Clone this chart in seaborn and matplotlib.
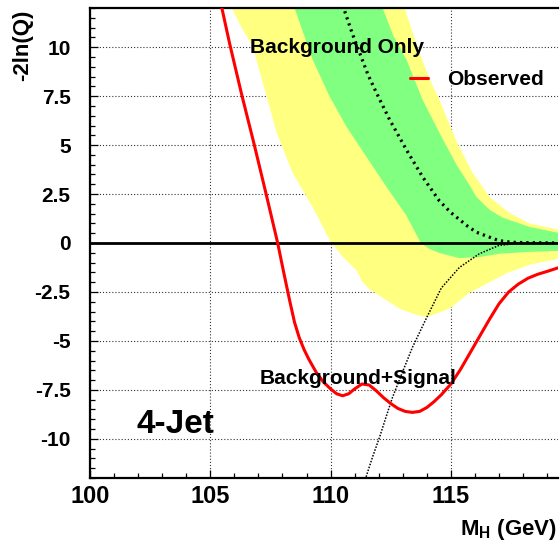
import numpy as np
import pandas as pd
import seaborn as sns
import matplotlib.pyplot as plt
from matplotlib.ticker import MultipleLocator

# values
# observed -2ln(Q)
obs_x = [105.35, 105.48, 105.8, 106.3, 106.83, 107.3, 107.8, 108.05, 108.3, 108.5,
         108.7, 108.9, 109.1, 109.4, 109.7, 110.0, 110.25, 110.5, 110.75, 111.0,
         111.3, 111.6, 111.9, 112.2, 112.5, 112.8, 113.1, 113.4, 113.7, 114.0,
         114.3, 114.6, 115.0, 115.4, 115.8, 116.2, 116.6, 117.0, 117.4, 117.8,
         118.2, 118.6, 119.0, 119.5]
obs_y = [12.6, 12.0, 10.2, 7.6, 5.0, 2.6, 0.0, -1.5, -2.95, -4.05,
         -4.85, -5.45, -5.95, -6.6, -7.1, -7.45, -7.7, -7.8, -7.7, -7.45,
         -7.2, -7.25, -7.55, -7.9, -8.2, -8.45, -8.6, -8.65, -8.6, -8.4,
         -8.1, -7.75, -7.2, -6.45, -5.6, -4.75, -3.9, -3.1, -2.5, -2.1,
         -1.8, -1.6, -1.45, -1.25]

# expected, background only (median)
bkg_x = [110.4, 110.54, 110.9, 111.2, 111.55, 111.9, 112.45, 113.15, 113.82, 114.52,
         115.0, 115.35, 115.7, 116.06, 116.6, 117.0, 117.5, 118.0, 119.5]
bkg_y = [12.6, 12.0, 10.7, 9.73, 8.6, 7.68, 6.3, 4.76, 3.38, 2.15,
         1.55, 1.2, 0.85, 0.55, 0.3, 0.12, 0.04, 0.02, 0.0]

# expected, background + signal
sb_x = [111.4, 111.49, 111.75, 112.03, 112.3, 112.57, 113.0, 113.4, 113.98, 114.6,
        115.35, 116.18, 117.0, 117.8, 119.5]
sb_y = [-12.4, -11.88, -10.9, -9.93, -8.9, -7.89, -6.55, -5.33, -3.84, -2.3,
        -1.25, -0.55, -0.12, -0.02, 0.0]

# 2 sigma band edges (yellow)
y2_hi_x = [112.8, 113.07, 113.69, 114.1, 114.52, 115.23, 115.89, 116.3, 116.6, 117.43, 118.26, 119.5]
y2_hi_y = [13.0, 12.0, 9.73, 8.4, 7.32, 5.2, 3.6, 2.9, 2.35, 1.54, 1.0, 0.67]
y2_lo_x = [105.7, 105.89, 106.3, 106.76, 107.18, 107.76, 108.42, 109.25, 109.96, 110.5,
           111.08, 111.3, 111.6, 112.32, 112.86, 113.4, 113.98, 114.94, 115.77, 116.6,
           117.4, 118.3, 119.5]
y2_lo_y = [13.0, 12.0, 11.0, 10.04, 8.19, 5.63, 3.58, 1.84, 0.15, -0.7,
           -1.4, -1.95, -2.35, -2.92, -3.35, -3.6, -3.8, -3.35, -2.55, -2.0,
           -1.5, -1.1, -0.8]

# 1 sigma band edges (green)
y1_hi_x = [111.9, 112.16, 112.6, 113.15, 113.82, 114.52, 115.23, 115.8, 116.06, 116.6, 117.14, 118.26, 119.5]
y1_hi_y = [13.0, 12.0, 10.6, 9.37, 7.32, 5.63, 4.0, 2.9, 2.35, 1.7, 1.3, 0.82, 0.51]
y1_lo_x = [108.3, 108.5, 109.25, 109.96, 110.66, 111.49, 112.32, 113.15, 113.75, 114.1,
           114.52, 115.35, 116.18, 117.0, 118.3, 119.5]
y1_lo_y = [13.0, 12.0, 9.37, 7.48, 5.94, 4.4, 2.87, 1.4, 0.0, -0.3,
           -0.51, -0.77, -0.72, -0.55, -0.45, -0.4]

x_ticks = [100, 105, 110, 115]
x_tick_labels = ["100", "105", "110", "115"]
y_ticks = [-10, -7.5, -5, -2.5, 0, 2.5, 5, 7.5, 10]
y_tick_labels = ["-10", "-7.5", "-5", "-2.5", "0", "2.5", "5", "7.5", "10"]

sns.set_theme(style="ticks")
plt.rcParams["font.family"] = ["Liberation Sans", "DejaVu Sans"]
plt.rcParams["font.weight"] = "bold"
plt.rcParams["text.color"] = "black"
plt.rcParams["axes.labelcolor"] = "black"
plt.rcParams["xtick.color"] = "black"
plt.rcParams["ytick.color"] = "black"
plt.rcParams["xtick.labelcolor"] = "black"
plt.rcParams["ytick.labelcolor"] = "black"
plt.rcParams["mathtext.fontset"] = "custom"
plt.rcParams["mathtext.rm"] = "Liberation Sans:bold"
plt.rcParams["mathtext.bf"] = "Liberation Sans:bold"

fig = plt.figure(figsize=(5.6, 5.46), dpi=100)
ax = fig.add_axes([90 / 560, 68 / 546, 468 / 560, 470 / 546])

# bands
ax.fill(y2_hi_x + y2_lo_x[::-1], y2_hi_y + y2_lo_y[::-1], color="#ffff80", lw=0, zorder=1)
ax.fill(y1_hi_x + y1_lo_x[::-1], y1_hi_y + y1_lo_y[::-1], color="#80ff80", lw=0, zorder=1.1)

ax.axhline(0, color="black", lw=2, zorder=3)

bkg = pd.DataFrame({"mh": bkg_x, "q": bkg_y})
sb = pd.DataFrame({"mh": sb_x, "q": sb_y})
obs = pd.DataFrame({"mh": obs_x, "q": obs_y})

sns.lineplot(data=bkg, x="mh", y="q", ax=ax, color="black", lw=2.3,
             linestyle=(0, (0.7, 1.3)), estimator=None, zorder=4)
sns.lineplot(data=sb, x="mh", y="q", ax=ax, color="black", lw=1.1,
             linestyle=(0, (1, 1)), estimator=None, zorder=4)
sns.lineplot(data=obs, x="mh", y="q", ax=ax, color="red", lw=2.2,
             estimator=None, zorder=5, label="Observed")

ax.set_xlim(100, 119.45)
ax.set_ylim(-12, 12)
ax.set_xticks(x_ticks)
ax.set_xticklabels(x_tick_labels)
ax.set_yticks(y_ticks)
ax.set_yticklabels(y_tick_labels)
ax.xaxis.set_minor_locator(MultipleLocator(1))
ax.yaxis.set_minor_locator(MultipleLocator(0.5))
ax.tick_params(which="both", direction="in", top=False, right=False, width=0.9, color="black")
ax.tick_params(which="major", length=6)
ax.tick_params(which="minor", length=3.6)
ax.tick_params(axis="x", labelsize=17, pad=5)
ax.tick_params(axis="y", labelsize=15, pad=14)
for lab in ax.get_xticklabels() + ax.get_yticklabels():
    lab.set_fontweight("bold")
    lab.set_color("black")

ax.set_axisbelow(True)
ax.grid(True, which="major", color="#333333", lw=0.8, linestyle=(0, (1, 1.8)))

for side in ["left", "bottom", "top"]:
    ax.spines[side].set_color("black")
    ax.spines[side].set_linewidth(1.6)
ax.spines["right"].set_visible(False)

ax.set_xlabel("")
ax.set_ylabel("")
fig.text(557 / 560, 11 / 546, r"$\mathbf{M_H}$ (GeV)", ha="right", va="baseline",
         fontsize=16, fontweight="bold", color="black")
fig.text(33 / 560, 1 - 10 / 546, "-2ln(Q)", rotation=90, ha="right", va="top",
         fontsize=16, fontweight="bold", color="black")

ax.text(106.64, 9.68, "Background Only", fontsize=15, fontweight="bold", va="baseline",
        color="black", zorder=6)
ax.text(107.05, -7.2, "Background+Signal", fontsize=15, fontweight="bold", va="baseline",
        color="black", zorder=6)
ax.text(101.95, -9.68, "4-Jet", fontsize=24, fontweight="bold", va="baseline",
        color="black", zorder=6)

leg = ax.legend(loc="center left", bbox_to_anchor=(0.684, 0.847), frameon=False,
                borderaxespad=0, borderpad=0, handlelength=0.87, handletextpad=0.9,
                prop={"size": 15, "weight": "bold"})
for t in leg.get_texts():
    t.set_color("black")

fig.savefig("out.png", dpi=100)
